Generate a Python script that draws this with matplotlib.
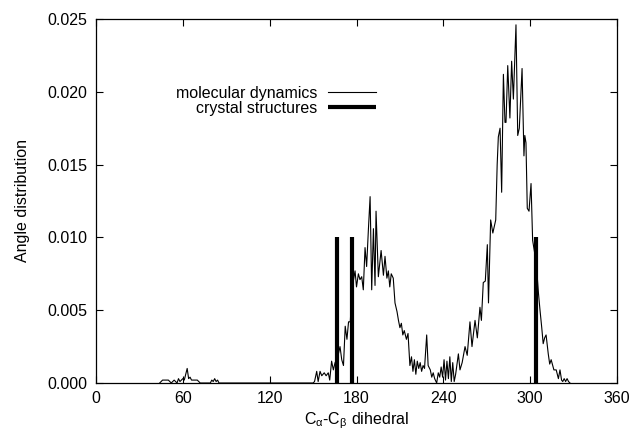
import matplotlib
matplotlib.use("Agg")
import matplotlib.pyplot as plt

plt.rcParams['font.family'] = ['Liberation Sans', 'DejaVu Sans']
plt.rcParams['mathtext.fontset'] = 'custom'
plt.rcParams['mathtext.rm'] = 'Liberation Sans'
plt.rcParams['mathtext.it'] = 'Liberation Sans'

# molecular dynamics angle distribution
md_angle = [44, 46, 48, 50, 52, 54, 56, 57, 58, 60, 61, 62, 63, 64, 65, 66, 68, 70, 72,
            79, 80, 81, 82, 83, 84, 85, 150, 151, 152.5, 153.5, 154.8, 156, 157.7, 159,
            160.5, 161.5, 162.8, 164, 165.2, 166.3, 167.5, 168.6, 169.8, 171, 172.2,
            173.4, 174.5, 175.7, 176.7, 177.8, 179, 180, 181.3, 182.4, 183.6, 184.7,
            185.9, 187, 188.2, 189.4, 190.5, 191.7, 192.8, 193.5, 195.1, 197, 198.6,
            199.7, 201, 202, 203, 204, 205.4, 206.6, 208, 209, 210, 211, 212, 213,
            214.5, 215.6, 216.9, 218, 219, 220, 221, 222, 223, 224, 225, 226, 227,
            228.5, 229.5, 231, 232, 233, 234, 235.4, 236.5, 237.5, 238.5, 239.5, 240.5,
            241.5, 242.5, 243.5, 244.5, 245.5, 246.5, 247.5, 248.5, 250.4, 251.5, 253,
            255, 256.5, 258.4, 259.8, 261.9, 263.5, 265.3, 266.3, 267.6, 269, 270.4,
            271.2, 272.7, 274.2, 276.2, 277.2, 278, 279.2, 280.3, 281.5, 282.6, 283.3,
            284.5, 286, 287.2, 288.4, 290.2, 291.4, 292.5, 294.4, 295.7, 296.3, 297.1,
            298, 299.2, 300.6, 301.7, 303, 304.6, 305.7, 306.8, 308, 309, 310, 311,
            312.5, 313.5, 314.5, 316.4, 318, 319.5, 320.6, 321.7, 322.5, 323.5, 324.5,
            325.5, 326.5, 327.5]
md_dist = [0, 0.0002, 0.0002, 0.0002, 0, 0.0002, 0, 0.0003, 0.0001, 0.0003, 0.0002,
           0.0006, 0.001, 0.0003, 0.0004, 0.0002, 0.0002, 0.0002, 0,
           0, 0.0002, 0.0001, 0.0003, 0.0001, 0.0002, 0, 0, 0.0001, 0.0008, 0.0001,
           0.0008, 0.0005, 0.0007, 0.0005, 0.0007, 0.0002, 0.0015, 0.0009, 0.0014,
           0.0016, 0.002, 0.0025, 0.0016, 0.0012, 0.0039, 0.003, 0.0042, 0.0042,
           0.006, 0.007, 0.0077, 0.0066, 0.0075, 0.0071, 0.0073, 0.0064, 0.0093,
           0.008, 0.0105, 0.0128, 0.0064, 0.0106, 0.0067, 0.0118, 0.0073, 0.0091,
           0.0074, 0.0087, 0.0072, 0.0077, 0.0066, 0.0075, 0.0072, 0.0055, 0.0049,
           0.0043, 0.0038, 0.0041, 0.0033, 0.0036, 0.003, 0.0034, 0.0012, 0.0018,
           0.0008, 0.0016, 0.0006, 0.0015, 0.001, 0.0014, 0.0008, 0.0012, 0.001,
           0.0033, 0.0012, 0.0009, 0.0004, 0.0007, 0.0003, 0, 0.0007, 0.0004, 0.0011,
           0.0004, 0.0016, 0.0002, 0.0015, 0.0003, 0.0018, 0.0001, 0.0014, 0.0001,
           0.0006, 0.002, 0.0009, 0.0014, 0.0025, 0.0019, 0.0042, 0.0025, 0.0043,
           0.0031, 0.0052, 0.0043, 0.0069, 0.007, 0.0095, 0.0055, 0.0112, 0.0103,
           0.0112, 0.015, 0.0169, 0.0175, 0.0131, 0.0212, 0.0179, 0.0179, 0.0218,
           0.0182, 0.0221, 0.0195, 0.0246, 0.017, 0.0175, 0.0216, 0.0156, 0.017,
           0.0165, 0.012, 0.0118, 0.0137, 0.0098, 0.009, 0.0077, 0.0062, 0.005,
           0.0038, 0.0027, 0.0031, 0.0033, 0.002, 0.0013, 0.0016, 0.0009, 0.0009,
           0.0003, 0.0009, 0.0002, 0.0001, 0.0003, 0.0001, 0.0003, 0.0001, 0]

# crystal structures
crystal_angle = [166.3, 176.7, 304.0]
crystal_height = [0.010, 0.010, 0.010]

fig = plt.figure(figsize=(6.32, 4.33), dpi=100)
ax = fig.add_axes([96 / 632, 1 - 383 / 433, 521 / 632, 364 / 433])

ax.plot(md_angle, md_dist, color='black', lw=0.8, label='molecular dynamics')
ax.vlines(crystal_angle, 0, crystal_height, color='black', lw=3.0,
          label='crystal structures')

ax.set_xlim(0, 360)
ax.set_ylim(0, 0.025)
ax.set_xticks(range(0, 361, 60))
ax.set_yticks([0, 0.005, 0.010, 0.015, 0.020, 0.025])
ax.yaxis.set_major_formatter(matplotlib.ticker.FormatStrFormatter('%.3f'))
ax.tick_params(direction='in', length=5, width=0.8, top=True, right=True,
               labelsize=11.5, pad=6, colors='black')
for s in ax.spines.values():
    s.set_linewidth(0.9)

ax.set_xlabel(r'C$_\alpha$-C$_\beta$ dihedral', fontsize=11.5, labelpad=3)
ax.set_ylabel('Angle distribution', fontsize=11.5, labelpad=13)

leg = ax.legend(loc='upper right', bbox_to_anchor=(376 / 632, 1 - 86 / 433),
                bbox_transform=fig.transFigure, frameon=False, markerfirst=False,
                fontsize=11.5, handlelength=3.0, handletextpad=0.7,
                labelspacing=0.0, borderpad=0, borderaxespad=0)
for t in leg.get_texts():
    t.set_ha('right')

fig.savefig('out.png', dpi=100)
